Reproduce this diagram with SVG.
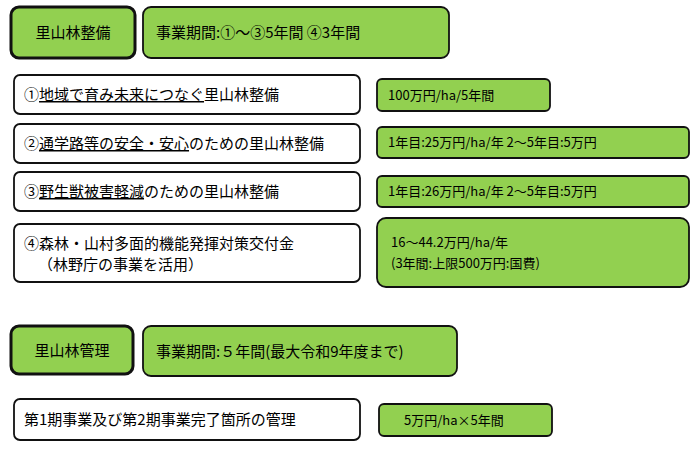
<svg xmlns="http://www.w3.org/2000/svg" width="700" height="454" viewBox="0 0 700 454">
<style>
.g{fill:#92d050;stroke:#111;stroke-width:1.8}
.h{fill:#92d050;stroke:#111;stroke-width:3}
.w{fill:#fff;stroke:#111;stroke-width:1.8}
text{font-family:"Noto Sans CJK JP","Liberation Sans",sans-serif;fill:#000}
.t{font-size:15px}
.s{font-size:13px}
.u{text-decoration:underline}
</style>
<rect width="700" height="454" fill="#fff"/>
<g id="n1"><rect class="h" x="11" y="7" width="124" height="51" rx="8"/><text class="t" x="73" y="38" text-anchor="middle">里山林整備</text></g>
<g id="n2"><rect class="g" x="143" y="7" width="306" height="51" rx="8"/><text class="t" x="156" y="38">事業期間:①～③5年間  ④3年間</text></g>
<g id="n3"><rect class="w" x="14" y="75" width="346" height="39" rx="6"/><text class="t" x="24" y="100">①<tspan class="u">地域で育み未来につなぐ</tspan>里山林整備</text></g>
<g id="n4"><rect class="g" x="377" y="79" width="173" height="32" rx="5"/><text class="s" x="388" y="100">100万円/ha/5年間</text></g>
<g id="n5"><rect class="w" x="14" y="124" width="346" height="39" rx="6"/><text class="t" x="24" y="149">②<tspan class="u">通学路等の安全・安心</tspan>のための里山林整備</text></g>
<g id="n6"><rect class="g" x="377" y="127" width="312" height="31" rx="5"/><text class="s" x="388" y="147">1年目:25万円/ha/年  2～5年目:5万円</text></g>
<g id="n7"><rect class="w" x="14" y="172" width="346" height="39" rx="6"/><text class="t" x="24" y="197">③<tspan class="u">野生獣被害軽減</tspan>のための里山林整備</text></g>
<g id="n8"><rect class="g" x="377" y="176" width="312" height="31" rx="5"/><text class="s" x="388" y="196">1年目:26万円/ha/年  2～5年目:5万円</text></g>
<g id="n9"><rect class="w" x="14" y="224" width="346" height="58" rx="6"/><text class="t" x="24" y="249">④森林・山村多面的機能発揮対策交付金</text><text class="t" x="38" y="270">（林野庁の事業を活用）</text></g>
<g id="n10"><rect class="g" x="377" y="218" width="312" height="69" rx="9"/><text class="s" x="391" y="247">16～44.2万円/ha/年</text><text class="s" x="391" y="268">(3年間:上限500万円:国費)</text></g>
<g id="n11"><rect class="h" x="11" y="326" width="122" height="48" rx="8"/><text class="t" x="72" y="356" text-anchor="middle">里山林管理</text></g>
<g id="n12"><rect class="g" x="143" y="326" width="314" height="50" rx="8"/><text class="t" x="156" y="357">事業期間:５年間(最大令和9年度まで)</text></g>
<g id="n13"><rect class="w" x="14" y="399" width="346" height="41" rx="6"/><text class="t" x="24" y="425">第1期事業及び第2期事業完了箇所の管理</text></g>
<g id="n14"><rect class="g" x="379" y="404" width="173" height="32" rx="5"/><text class="s" x="404" y="425">5万円/ha×5年間</text></g>
<g id="connectors"/>
</svg>
